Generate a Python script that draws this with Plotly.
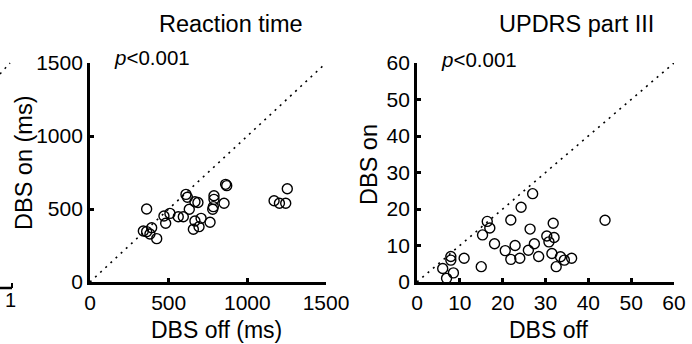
import plotly.graph_objects as go

# Reaction time (ms)
rt_off = [360, 339, 360, 392, 381, 424, 470, 481, 508, 561, 593, 610, 619, 631, 667, 686,
          667, 657, 693, 706, 763, 780, 784, 788, 788, 852, 862, 869, 1170, 1204, 1244, 1254]
rt_on = [500, 349, 345, 372, 329, 297, 452, 402, 470, 447, 447, 600, 580, 498, 550, 545,
         418, 361, 379, 436, 409, 498, 516, 566, 591, 539, 669, 660, 557, 539, 539, 639]

# UPDRS part III
up_off = [6.9, 6.0, 7.9, 7.9, 8.5, 11.0, 15.0, 15.3, 16.4, 17.0, 18.1, 20.6, 21.9, 21.9, 22.9, 24.0,
          24.3, 26.0, 26.4, 27.0, 27.4, 28.4, 30.3, 30.8, 31.8, 32.0, 31.5, 32.5, 33.5, 34.4, 36.1, 43.9]
up_on = [1.0, 3.7, 7.0, 6.0, 2.5, 6.5, 4.2, 12.9, 16.6, 14.8, 10.5, 8.6, 17.0, 6.2, 10.0, 6.5,
         20.5, 8.7, 14.5, 24.2, 10.5, 7.0, 12.6, 11.0, 16.1, 12.2, 7.8, 4.2, 6.9, 6.0, 6.5, 16.9]

rt_ticks = [0, 500, 1000, 1500]
up_ticks = [0, 10, 20, 30, 40, 50, 60]
rt_line = [0, 1500]
up_line = [0, 60]

W, H = 692, 344
FONT = "Arial, Liberation Sans, sans-serif"

fig = go.Figure()

marker = dict(symbol="circle-open", size=10, color="black", line=dict(width=1.4, color="black"))
dot = dict(color="black", width=1.6, dash="2px,5px")

fig.add_trace(go.Scatter(x=rt_line, y=rt_line, mode="lines", line=dot, xaxis="x", yaxis="y",
                         showlegend=False, hoverinfo="skip"))
fig.add_trace(go.Scatter(x=rt_off, y=rt_on, mode="markers", marker=marker, xaxis="x", yaxis="y",
                         showlegend=False, cliponaxis=False))
fig.add_trace(go.Scatter(x=up_line, y=up_line, mode="lines", line=dot, xaxis="x2", yaxis="y2",
                         showlegend=False, hoverinfo="skip"))
fig.add_trace(go.Scatter(x=up_off, y=up_on, mode="markers", marker=marker, xaxis="x2", yaxis="y2",
                         showlegend=False, cliponaxis=False))

def px(x):
    return x / W

def py(y):
    return 1 - y / H

ax_common = dict(showgrid=False, zeroline=False, showline=True, linecolor="black", linewidth=2.8,
                 ticks="inside", ticklen=4, tickwidth=2.5, tickcolor="black", automargin=False,
                 tickfont=dict(family=FONT, size=21, color="black"), fixedrange=True)

fig.update_layout(
    width=W, height=H, autosize=False,
    margin=dict(l=0, r=0, t=0, b=0, pad=0),
    paper_bgcolor="white", plot_bgcolor="white",
    xaxis=dict(domain=[px(90), px(326)], range=[0, 1500], tickvals=rt_ticks, anchor="y", **ax_common),
    yaxis=dict(domain=[py(282), py(63)], range=[0, 1500], tickvals=rt_ticks, anchor="x", **ax_common),
    xaxis2=dict(domain=[px(417), px(674)], range=[0, 60], tickvals=up_ticks, anchor="y2", **ax_common),
    yaxis2=dict(domain=[py(282), py(63)], range=[0, 60], tickvals=up_ticks, anchor="x2", **ax_common),
)

def ann(text, x, y, size, angle=0, xanchor="center"):
    fig.add_annotation(text=text, x=px(x), y=py(y), xref="paper", yref="paper", showarrow=False,
                       xanchor=xanchor, yanchor="middle", textangle=angle,
                       font=dict(family=FONT, size=size, color="black"))

ann("Reaction time", 231, 24, 23.5)
ann("UPDRS part III", 576, 24, 23.5)
ann("<i>p</i><0.001", 112, 58, 20.5, xanchor="left")
ann("<i>p</i><0.001", 439, 60, 20.5, xanchor="left")
ann("DBS off (ms)", 216, 330, 23)
ann("DBS off", 548, 330, 23)
ann("DBS on (ms)", 24, 163, 23.5, angle=-90)
ann("DBS on", 369, 165, 23.5, angle=-90)

# fragments of the neighbouring (cropped) panel at the left edge
ann("1", 10, 300, 20)
fig.add_shape(type="line", xref="paper", yref="paper", x0=px(0), y0=py(288), x1=px(12), y1=py(288),
              line=dict(color="black", width=2.5))
fig.add_shape(type="line", xref="paper", yref="paper", x0=px(12), y0=py(288), x1=px(12), y1=py(283),
              line=dict(color="black", width=2))
fig.add_shape(type="line", xref="paper", yref="paper", x0=px(0), y0=py(74), x1=px(10), y1=py(63),
              line=dict(color="black", width=1.5, dash="2px,5px"))

fig.write_html("out.html", config={"displayModeBar": False, "responsive": False},
               post_script="document.body.style.margin='0';")
